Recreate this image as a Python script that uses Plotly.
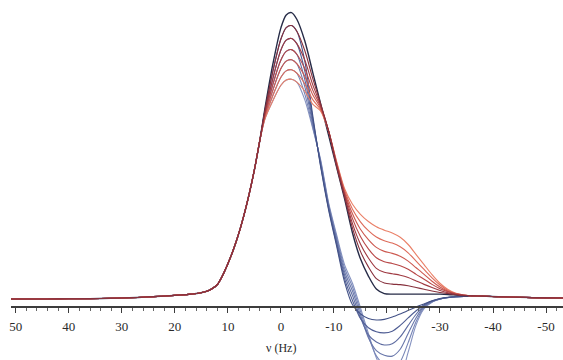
import plotly.graph_objects as go

# ---- shared left part (all spectra coincide here) ----
nu_left = [50.9, 46, 42, 38, 34, 30, 27, 24, 21, 19, 17, 15.5, 14, 13, 12, 11, 10, 9, 8, 7, 6, 5, 4]
v_left = [0, 0, 0.05, 0.1, 0.2, 0.35, 0.55, 0.85, 1.15, 1.4, 1.7, 2.0, 2.7, 3.6, 5.0, 8.2, 12.3, 17, 22.5, 29, 36.5, 45, 55]

# ---- per-spectrum part ----
nu_mid = [3, 1.5, 0, -1, -2, -3, -4.5, -6, -7.5, -9, -10.5, -12, -13.5, -15, -16.5, -18,
          -19.5, -21, -22.5, -24, -25.5, -27, -28.5, -30, -31.5, -33, -34.5, -36]

dark = [66.5, 82, 94.5, 99, 99.8, 97.5, 90, 79, 68, 57, 46, 35, 23, 14, 8, 3.5, 1.9, 1.7, 1.7, 1.7, 1.7, 1.7, 1.7, 1.7, 1.6, 1.4, 1.2, 1.1]

red1 = [65.8, 79.5, 90.6, 94.6, 95.3, 93.3, 86.6, 76.9, 68, 58.5, 46.3, 35.6, 24.7, 16.6, 11.2, 7.1, 5.6, 5.2, 5.0, 4.6, 4.0, 3.4, 2.8, 2.3, 1.9, 1.5, 1.2, 1.1]
red2 = [65.1, 77.0, 86.8, 90.2, 90.8, 89.0, 83.3, 74.7, 67.5, 58.5, 46.7, 36.2, 26.3, 19.2, 14.3, 10.7, 9.3, 8.8, 8.3, 7.5, 6.3, 5.1, 4.0, 3.0, 2.2, 1.6, 1.3, 1.1]
red3 = [64.4, 74.9, 83.3, 86.3, 86.9, 85.3, 80.3, 72.8, 67, 58.5, 47, 36.8, 28, 21.8, 17.5, 14.4, 13, 12.4, 11.6, 10.4, 8.6, 6.9, 5.1, 3.6, 2.5, 1.7, 1.3, 1.1]
red4 = [63.9, 72.9, 80.3, 82.9, 83.4, 82.0, 77.6, 71.2, 66.5, 58.5, 47.3, 37.3, 29.7, 24.3, 20.7, 18, 16.6, 15.9, 14.9, 13.2, 10.9, 8.6, 6.2, 4.2, 2.7, 1.8, 1.3, 1.1]
red5 = [63.3, 71.0, 77.3, 79.5, 79.9, 78.7, 75, 69.5, 66, 58.5, 47.7, 37.9, 31.3, 26.9, 23.8, 21.6, 20.3, 19.5, 18.2, 16.1, 13.2, 10.3, 7.4, 4.9, 3.0, 1.9, 1.4, 1.1]
red6 = [62.8, 69.2, 74.5, 76.3, 76.6, 75.6, 72.5, 67.9, 65.5, 58.5, 48, 38.5, 33, 29.5, 27, 25.2, 24, 23, 21.5, 19, 15.5, 12, 8.5, 5.5, 3.3, 2, 1.4, 1.1]

blue1 = [65.8, 79.5, 90.6, 94.6, 95.3, 93.3, 83, 64, 46, 31, 18.5, 6, -2, -5.2, -6.8, -7.3, -7.1, -6.3, -5.2, -4.0, -2.8, -1.7, -0.6, 0.2, 0.6, 0.8, 0.9, 0.9]
blue2 = [65.1, 77.0, 86.8, 90.2, 90.8, 89.0, 79.5, 63, 46.5, 31.5, 19.2, 7.2, -0.5, -6.8, -10, -11.4, -11.8, -11.2, -9.2, -6.6, -4.1, -2.0, -0.7, 0.1, 0.5, 0.8, 0.9, 0.9]
blue3 = [64.4, 74.9, 83.3, 86.3, 86.9, 85.3, 76.5, 62, 47, 32, 20, 8.4, 1.2, -6.5, -12.5, -15, -16, -15.6, -13.2, -9.2, -5.3, -2.3, -0.8, 0.0, 0.5, 0.8, 0.9, 0.9]
blue4 = [63.9, 72.9, 80.3, 82.9, 83.4, 82.0, 74, 61, 47.5, 32.5, 20.8, 9.6, 2.8, -5.5, -13.5, -18, -19.6, -19.9, -17.5, -12, -6.5, -2.6, -0.9, 0.0, 0.5, 0.8, 0.9, 0.9]
blue5 = [63.3, 71.0, 77.3, 79.5, 79.9, 78.7, 71.5, 60, 48, 33, 21.6, 10.8, 4.2, -4.2, -13, -19.8, -22.8, -23.7, -21.8, -15.2, -7.8, -3, -1, 0, 0.5, 0.8, 0.9, 0.9]
blue6 = [62.8, 69.2, 74.5, 76.3, 76.6, 75.6, 69.5, 59.5, 48.5, 33.5, 22.4, 12, 5.5, -3, -12, -20.5, -25.5, -27.4, -27, -18.5, -9, -3.4, -1.1, -0.1, 0.5, 0.8, 0.9, 0.9]

# ---- shared right tail ----
nu_right = [-38, -41, -45, -50, -53.2]
v_right = [1.0, 0.8, 0.6, 0.4, 0.35]

tick_vals = [50, 40, 30, 20, 10, 0, -10, -20, -30, -40, -50]
tick_text = ["50", "40", "30", "20", "10", "0", "-10", "", "-30", "-40", "-50"]
x_title = "ν (Hz)"

blue_series = [blue6, blue5, blue4, blue3, blue2, blue1]
blue_colors = ["#8592c0", "#7785b6", "#6a78ab", "#5d6ba0", "#505e94", "#435287"]
red_series = [red6, red5, red4, red3, red2, red1]
red_colors = ["#ea8068", "#dd6b5a", "#cc584f", "#b84747", "#9f3941", "#86303c"]

nu_full = nu_left + nu_mid + nu_right

fig = go.Figure()

def add(vals, color, width=1.1):
    fig.add_trace(go.Scatter(
        x=nu_full, y=v_left + vals + v_right, mode="lines",
        line=dict(color=color, width=width, shape="spline", smoothing=0.8),
        hoverinfo="skip", showlegend=False))

for vals, c in zip(blue_series, blue_colors):
    add(vals, c)
add(dark, "#262b47", 1.4)
for vals, c in zip(red_series, red_colors):
    add(vals, c)

fig.update_layout(
    width=563, height=360,
    margin=dict(l=11, r=0, t=0, b=0),
    paper_bgcolor="white", plot_bgcolor="white",
    xaxis=dict(
        range=[50.9, -53.2], anchor="free", position=0.147,
        showline=True, linecolor="#3c3c3c", linewidth=1.6,
        ticks="outside", ticklen=5, tickwidth=1, tickcolor="#3c3c3c",
        tickmode="array", tickvals=tick_vals, ticktext=tick_text,
        minor=dict(tickmode="linear", tick0=0, dtick=2, ticks="outside",
                   ticklen=3, tickcolor="#666666", showgrid=False),
        showgrid=False, zeroline=False,
        tickfont=dict(family="Liberation Serif", size=13, color="#2a2a2a"),
        ticklabelstandoff=3,
    ),
    yaxis=dict(visible=False, range=[-21.25, 104.2]),
    annotations=[dict(text=x_title, x=0, xref="x", y=(360 - 348) / 360, yref="paper",
                      showarrow=False, xanchor="center", yanchor="middle",
                      font=dict(family="Liberation Serif", size=12, color="#2a2a2a"))],
)

fig.write_html("out.html", config={"displayModeBar": False},
               post_script="document.body.style.margin='0';document.body.style.padding='0';")
